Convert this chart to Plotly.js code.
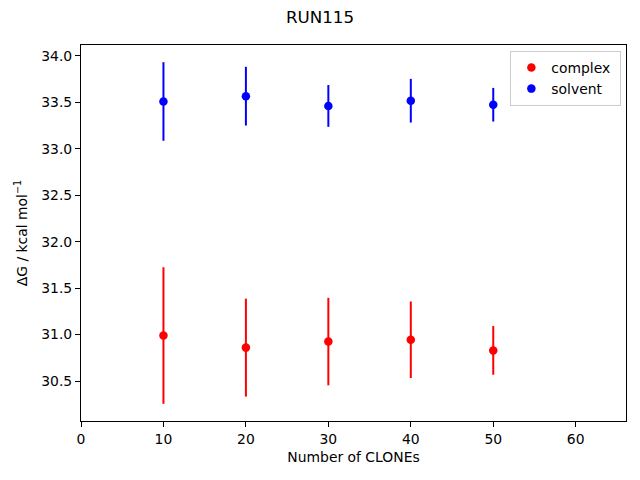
<!DOCTYPE html>
<html>
<head>
<meta charset="utf-8">
<script src="https://cdn.plot.ly/plotly-3.0.1.min.js"></script>
<style>html,body{margin:0;padding:0;background:#fff}#plot{width:640px;height:480px}</style>
</head>
<body>
<div id="plot"></div>
<script>
const clones = [10, 20, 30, 40, 50];
const complexDG = [30.99, 30.86, 30.925, 30.945, 30.83];
const complexErr = [0.735, 0.527, 0.471, 0.412, 0.262];
const solventDG = [33.51, 33.567, 33.462, 33.518, 33.475];
const solventErr = [0.423, 0.316, 0.225, 0.235, 0.181];
const xTicks = [0, 10, 20, 30, 40, 50, 60];
const yTicks = [30.5, 31.0, 31.5, 32.0, 32.5, 33.0, 33.5, 34.0];

const font = {family: 'DejaVu Sans, sans-serif', size: 13.9, color: '#000'};

const traces = [
  {
    x: clones, y: complexDG, name: 'complex\u00a0', type: 'scatter', mode: 'markers',
    marker: {color: '#ff0000', size: 8.5},
    error_y: {type: 'data', array: complexErr, visible: true, color: '#ff0000', thickness: 2, width: 0}
  },
  {
    x: clones, y: solventDG, name: 'solvent', type: 'scatter', mode: 'markers',
    marker: {color: '#0000ff', size: 8.5},
    error_y: {type: 'data', array: solventErr, visible: true, color: '#0000ff', thickness: 2, width: 0}
  }
];

const axisCommon = {
  showgrid: false, zeroline: false, showline: true, mirror: true,
  linecolor: '#000', linewidth: 1, ticks: 'outside', ticklen: 5, tickwidth: 1,
  tickcolor: '#000', tickfont: font
};

const layout = {
  width: 640, height: 480,
  paper_bgcolor: '#fff', plot_bgcolor: '#fff',
  margin: {l: 81, r: 14, t: 45, b: 58.5},
  font: font,
  title: {text: 'RUN115', x: 0.5, xanchor: 'center', y: 0.965, yanchor: 'middle', font: {family: font.family, size: 16.7, color: '#000'}},
  xaxis: Object.assign({}, axisCommon, {
    range: [0, 66.1], tickvals: xTicks, ticktext: xTicks.map(String),
    title: {text: 'Number of CLONEs', font: font, standoff: 6}
  }),
  yaxis: Object.assign({}, axisCommon, {
    range: [30.07, 34.118], tickvals: yTicks, ticktext: yTicks.map(v => v.toFixed(1)),
    title: {text: 'ΔG / kcal mol<sup>−1</sup>', font: font, standoff: 10}
  }),
  legend: {
    x: 0.9915, xanchor: 'right', y: 0.984, yanchor: 'top',
    bgcolor: 'rgba(255,255,255,0.8)', bordercolor: '#cccccc', borderwidth: 1,
    font: font, itemwidth: 30, tracegroupgap: 0
  },
  showlegend: true
};

Plotly.newPlot('plot', traces, layout, {staticPlot: true, displayModeBar: false});
</script>
</body>
</html>
